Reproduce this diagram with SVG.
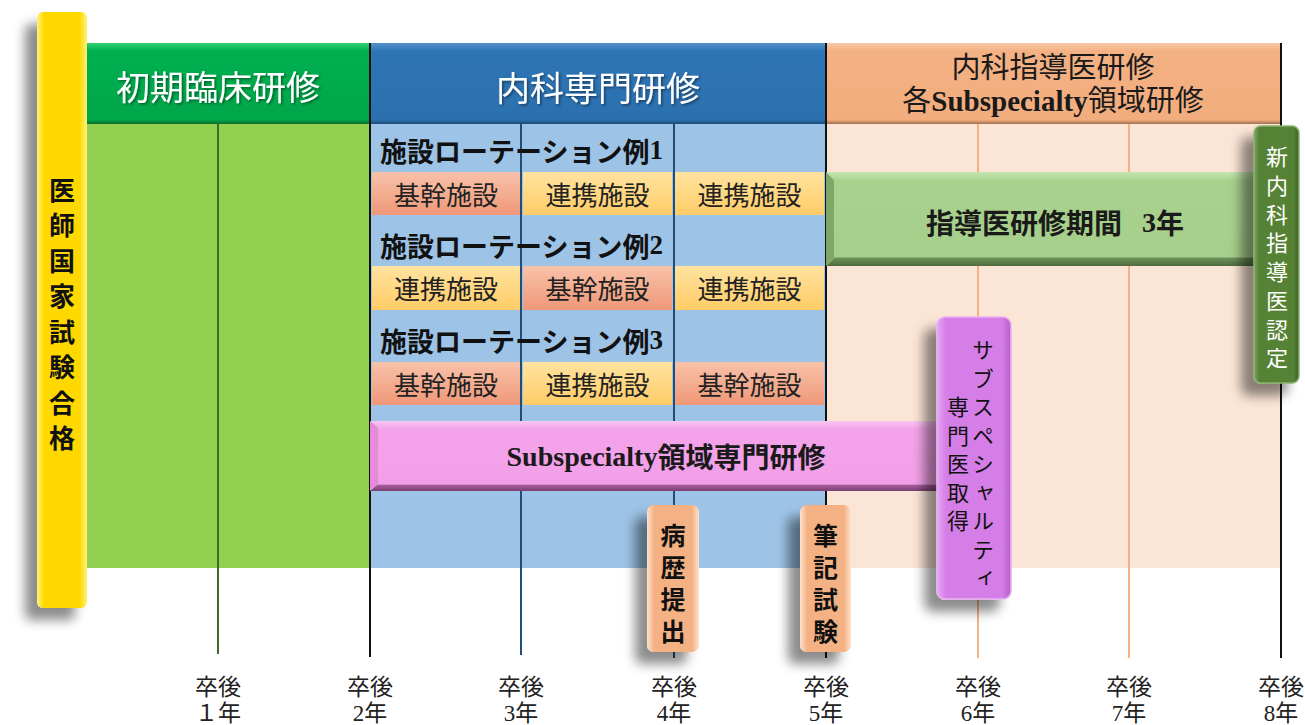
<svg xmlns="http://www.w3.org/2000/svg" width="1305" height="725" viewBox="0 0 1305 725">
<defs>
<style>
.f{font-family:"Liberation Serif","Noto Sans CJK JP",serif;}
.j{font-family:"Noto Sans CJK JP","Liberation Sans",sans-serif;}
.c{text-anchor:middle;dominant-baseline:central;}
.v{writing-mode:vertical-rl;text-anchor:start;}
.hd{font-size:34px;fill:#ffffff;}
.lab{font-size:27px;font-weight:bold;fill:#111;dominant-baseline:central;}
.cell{font-size:26px;fill:#222;}
.yr{font-size:23px;fill:#222;}
.vt{fill:#111;}
.ln{fill:none;stroke-width:2;}
</style>
<filter id="sh" x="-60%" y="-20%" width="220%" height="140%">
<feDropShadow dx="-12" dy="12" stdDeviation="6" flood-color="#000" flood-opacity="0.45"/>
</filter>
<filter id="ts" x="-10%" y="-20%" width="120%" height="140%">
<feDropShadow dx="1.5" dy="1.5" stdDeviation="1" flood-color="#000" flood-opacity="0.45"/>
</filter>
<linearGradient id="gK" x1="0" y1="0" x2="0" y2="1"><stop offset="0" stop-color="#f8c2a9"/><stop offset="1" stop-color="#ef9878"/></linearGradient>
<linearGradient id="gR" x1="0" y1="0" x2="0" y2="1"><stop offset="0" stop-color="#ffe3a0"/><stop offset="1" stop-color="#ffcc66"/></linearGradient>
<linearGradient id="gY" x1="0" y1="0" x2="1" y2="0"><stop offset="0" stop-color="#fff27a"/><stop offset="0.15" stop-color="#ffd800"/><stop offset="0.85" stop-color="#ffd800"/><stop offset="1" stop-color="#fff27a"/></linearGradient>
<linearGradient id="gGh" x1="0" y1="0" x2="0" y2="1"><stop offset="0" stop-color="#2fcf6f"/><stop offset="0.1" stop-color="#00b050"/><stop offset="0.95" stop-color="#00a64a"/><stop offset="1" stop-color="#0b6b30"/></linearGradient>
<linearGradient id="gBh" x1="0" y1="0" x2="0" y2="1"><stop offset="0" stop-color="#5592cc"/><stop offset="0.1" stop-color="#2e75b6"/><stop offset="0.95" stop-color="#2c70ae"/><stop offset="1" stop-color="#1a4a78"/></linearGradient>
<linearGradient id="gOh" x1="0" y1="0" x2="0" y2="1"><stop offset="0" stop-color="#f9c9a6"/><stop offset="0.1" stop-color="#f4b183"/><stop offset="0.95" stop-color="#f2ad7e"/><stop offset="1" stop-color="#a0704f"/></linearGradient>
<linearGradient id="gGb" x1="0" y1="0" x2="0" y2="1"><stop offset="0" stop-color="#c5e6b0"/><stop offset="0.1" stop-color="#a9d18e"/><stop offset="0.9" stop-color="#a6cf8b"/><stop offset="0.92" stop-color="#6d8f58"/><stop offset="1" stop-color="#4f6b3f"/></linearGradient>
<linearGradient id="gP" x1="0" y1="0" x2="0" y2="1"><stop offset="0" stop-color="#f8c6f2"/><stop offset="0.12" stop-color="#f4a3ea"/><stop offset="0.9" stop-color="#f29fe7"/><stop offset="0.92" stop-color="#a45c9a"/><stop offset="1" stop-color="#7a3f72"/></linearGradient>
<linearGradient id="gV" x1="0" y1="0" x2="1" y2="0"><stop offset="0" stop-color="#e6a6f2"/><stop offset="0.12" stop-color="#d67ee8"/><stop offset="0.88" stop-color="#d67ee8"/><stop offset="1" stop-color="#b55ec8"/></linearGradient>
<linearGradient id="gDg" x1="0" y1="0" x2="1" y2="0"><stop offset="0" stop-color="#7ea365"/><stop offset="0.12" stop-color="#548235"/><stop offset="0.88" stop-color="#548235"/><stop offset="1" stop-color="#3d6226"/></linearGradient>
<linearGradient id="gOs" x1="0" y1="0" x2="1" y2="0"><stop offset="0" stop-color="#fde2cc"/><stop offset="0.14" stop-color="#f4b183"/><stop offset="0.86" stop-color="#f4b183"/><stop offset="1" stop-color="#fde2cc"/></linearGradient>
</defs>
<rect width="1305" height="725" fill="#ffffff"/>

<g id="phase-initial">
<rect x="87" y="124" width="283" height="444" fill="#92d050"/>
<rect x="87" y="43" width="283" height="81" fill="url(#gGh)"/>
<text class="j c hd" x="218" y="85" filter="url(#ts)">初期臨床研修</text>
</g>
<g id="phase-specialist">
<rect x="370" y="124" width="456" height="444" fill="#9dc3e6"/>
<rect x="370" y="43" width="456" height="81" fill="url(#gBh)"/>
<text class="j c hd" x="598" y="86" filter="url(#ts)">内科専門研修</text>
</g>
<g id="phase-instructor">
<rect x="826" y="124" width="455" height="444" fill="#fbe5d6"/>
<rect x="826" y="43" width="455" height="81" fill="url(#gOh)"/>
<text class="f c" font-size="29" fill="#1a1a1a"><tspan x="1053" y="68">内科指導医研修</tspan><tspan x="1053" y="101">各<tspan font-weight="bold">Subspecialty</tspan>領域研修</tspan></text>
</g>

<g id="connectors">
<line class="ln" x1="218" y1="124" x2="218" y2="654" stroke="#3e6b2b"/>
<line class="ln" x1="370" y1="43" x2="370" y2="657" stroke="#111"/>
<line class="ln" x1="521" y1="124" x2="521" y2="655" stroke="#1f4e79"/>
<line class="ln" x1="674" y1="124" x2="674" y2="658" stroke="#1f4e79"/>
<line class="ln" x1="826" y1="43" x2="826" y2="658" stroke="#111"/>
<line class="ln" x1="978" y1="124" x2="978" y2="658" stroke="#f4b183"/>
<line class="ln" x1="1129" y1="124" x2="1129" y2="658" stroke="#f4b183"/>
<line class="ln" x1="1281" y1="43" x2="1281" y2="658" stroke="#111"/>
</g>

<g id="exam-pass">
<rect x="37" y="12" width="50" height="596" rx="6" fill="url(#gY)" filter="url(#sh)"/>
<text class="j v vt" x="62" y="177" font-size="26" font-weight="bold" letter-spacing="9.5">医師国家試験合格</text>
</g>

<g id="rotation-1">
<text class="j lab" x="380" y="150">施設ローテーション例<tspan class="f">1</tspan></text>
<rect x="372" y="172" width="148" height="43" fill="url(#gK)"/>
<rect x="523" y="172" width="149" height="43" fill="url(#gR)"/>
<rect x="675" y="172" width="149" height="43" fill="url(#gR)"/>
<text class="j c cell" x="446" y="193">基幹施設</text>
<text class="j c cell" x="597.5" y="193">連携施設</text>
<text class="j c cell" x="749.5" y="193">連携施設</text>
</g>
<g id="rotation-2">
<text class="j lab" x="380" y="245">施設ローテーション例<tspan class="f">2</tspan></text>
<rect x="372" y="266" width="148" height="44" fill="url(#gR)"/>
<rect x="523" y="266" width="149" height="44" fill="url(#gK)"/>
<rect x="675" y="266" width="149" height="44" fill="url(#gR)"/>
<text class="j c cell" x="446" y="287.5">連携施設</text>
<text class="j c cell" x="597.5" y="287.5">基幹施設</text>
<text class="j c cell" x="749.5" y="287.5">連携施設</text>
</g>
<g id="rotation-3">
<text class="j lab" x="380" y="340">施設ローテーション例<tspan class="f">3</tspan></text>
<rect x="372" y="362" width="148" height="43" fill="url(#gK)"/>
<rect x="523" y="362" width="149" height="43" fill="url(#gR)"/>
<rect x="675" y="362" width="149" height="43" fill="url(#gK)"/>
<text class="j c cell" x="446" y="383">基幹施設</text>
<text class="j c cell" x="597.5" y="383">連携施設</text>
<text class="j c cell" x="749.5" y="383">基幹施設</text>
</g>

<g id="instructor-period">
<polygon points="826,172 1256,172 1256,266 826,266 834,258 834,180" fill="url(#gGb)"/>
<polygon points="826,172 834,180 834,258 826,266" fill="#7fa866"/>
<text class="j c" x="1055" y="222" font-size="28" font-weight="bold" fill="#1a1a1a">指導医研修期間<tspan class="f" dx="20">3</tspan>年</text>
</g>

<g id="subspecialty-training">
<polygon points="370,421 940,421 940,491 370,491 378,484 378,428" fill="url(#gP)"/>
<polygon points="370,421 378,428 378,484 370,491" fill="#e58bd9"/>
<text class="f c" x="666" y="456" font-size="28" font-weight="bold" fill="#1a1a1a">Subspecialty<tspan class="j">領域専門研修</tspan></text>
</g>

<g id="new-instructor">
<rect x="1254" y="126" width="45" height="257" rx="7" fill="url(#gDg)" stroke="#8bb06f" stroke-width="1.5" filter="url(#sh)"/>
<text class="j v" x="1277" y="146" font-size="22" fill="#ffffff" letter-spacing="6.7">新内科指導医認定</text>
</g>

<g id="subspecialty-cert">
<rect x="937" y="317" width="74" height="282" rx="8" fill="url(#gV)" stroke="#e9b3f3" stroke-width="1.5" filter="url(#sh)"/>
<text class="j v vt" x="983" y="339" font-size="22" letter-spacing="6.5">サブスペシャルティ</text>
<text class="j v vt" x="958" y="396" font-size="22" letter-spacing="6.5">専門医取得</text>
</g>

<g id="case-report">
<rect x="647" y="505" width="52" height="147" rx="7" fill="url(#gOs)" filter="url(#sh)"/>
<text class="j v vt" x="673" y="522.5" font-size="25" font-weight="bold" letter-spacing="7">病歴提出</text>
</g>
<g id="written-exam">
<rect x="800" y="505" width="51" height="147" rx="7" fill="url(#gOs)" filter="url(#sh)"/>
<text class="j v vt" x="825.5" y="522.5" font-size="25" font-weight="bold" letter-spacing="7">筆記試験</text>
</g>

<g id="year-labels">
<text class="f c yr"><tspan x="218" y="687">卒後</tspan><tspan x="218" y="713">１年</tspan></text>
<text class="f c yr"><tspan x="370" y="687">卒後</tspan><tspan x="370" y="713">2年</tspan></text>
<text class="f c yr"><tspan x="521" y="687">卒後</tspan><tspan x="521" y="713">3年</tspan></text>
<text class="f c yr"><tspan x="674" y="687">卒後</tspan><tspan x="674" y="713">4年</tspan></text>
<text class="f c yr"><tspan x="826" y="687">卒後</tspan><tspan x="826" y="713">5年</tspan></text>
<text class="f c yr"><tspan x="978" y="687">卒後</tspan><tspan x="978" y="713">6年</tspan></text>
<text class="f c yr"><tspan x="1129" y="687">卒後</tspan><tspan x="1129" y="713">7年</tspan></text>
<text class="f c yr"><tspan x="1281" y="687">卒後</tspan><tspan x="1281" y="713">8年</tspan></text>
</g>
</svg>
